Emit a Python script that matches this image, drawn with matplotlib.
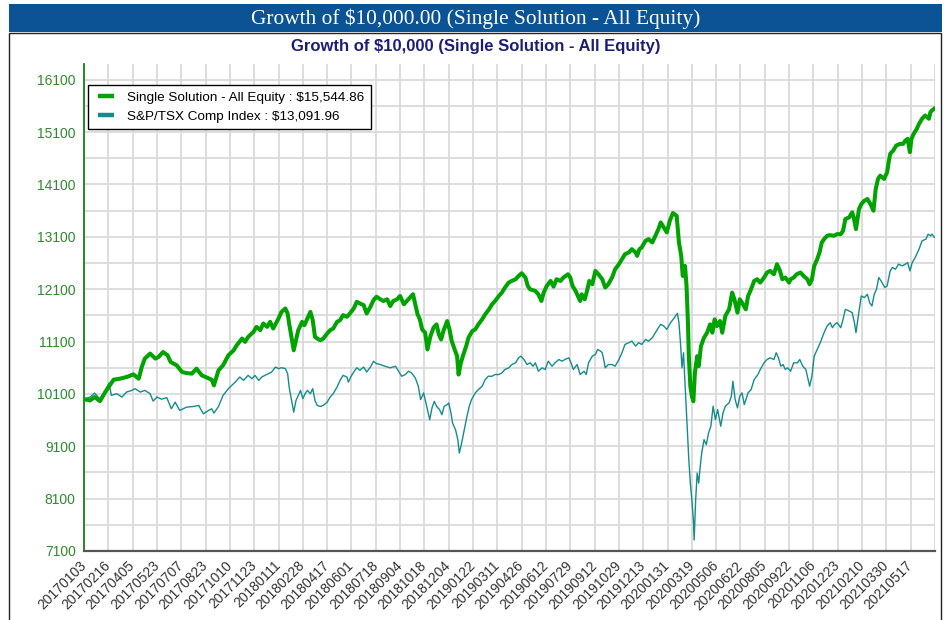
import matplotlib
matplotlib.use('Agg')
import matplotlib.pyplot as plt
from matplotlib.patches import Rectangle
from matplotlib.lines import Line2D

# ---------------- data ----------------
title_text = "Growth of $10,000.00 (Single Solution - All Equity)"
subtitle_text = "Growth of $10,000 (Single Solution - All Equity)"

x_labels = ["20170103", "20170216", "20170405", "20170523", "20170707", "20170823",
            "20171010", "20171123", "20180111", "20180228", "20180417", "20180601",
            "20180718", "20180904", "20181018", "20181204", "20190122", "20190311",
            "20190426", "20190612", "20190729", "20190912", "20191029", "20191213",
            "20200131", "20200319", "20200506", "20200622", "20200805", "20200922",
            "20201106", "20201223", "20210210", "20210330", "20210517"]
label_every = 32          # trading days between date labels
n_days = 1120             # trading days shown

y_labels = [7100, 8100, 9100, 10100, 11100, 12100, 13100, 14100, 15100, 16100]

legend_labels = ["Single Solution - All Equity : $15,544.86",
                 "S&P/TSX Comp Index : $13,091.96"]

# (trading day index, growth value)
single_solution = [
    (0,10000),(8,9975),(14,10040),(21,9962),(28,10135),(34,10263),(39,10372),(47,10390),(56,10422),
    (65,10473),(72,10390),(76,10613),(80,10774),(87,10870),(94,10774),(98,10805),(104,10900),(110,10837),
    (114,10709),(122,10646),(129,10518),(135,10498),(142,10487),(148,10583),(155,10454),(162,10410),
    (168,10372),(171,10263),(177,10550),(183,10646),(190,10837),
    (197,10933),(201,11029),(208,11157),(212,11093),(216,11188),(223,11284),(227,11380),(232,11317),
    (236,11445),(241,11380),(245,11476),(249,11349),(256,11540),(260,11667),(265,11732),(268,11636),
    (270,11445),(273,11188),(276,10933),(278,11061),(282,11317),(287,11476),(290,11412),(294,11540),
    (298,11667),(301,11508),(304,11188),(307,11157),(311,11125),(315,11157),(320,11253),(324,11317),
    (328,11349),(333,11476),(337,11508),(341,11604),(346,11572),(350,11636),(355,11732),(359,11859),
    (363,11828),(368,11796),(372,11636),(377,11764),(381,11891),(385,11955),
    (390,11907),(394,11874),(399,11907),(403,11778),(407,11874),(412,11907),(416,11970),(421,11811),
    (425,11874),(429,11939),(433,12003),(436,11811),(439,11619),(442,11524),(445,11332),(449,11269),
    (452,10949),(456,11204),(460,11365),(464,11428),(467,11236),(470,11140),(473,11300),(478,11491),
    (481,11332),(484,11108),(487,10981),(491,10820),(493,10470),(496,10694),(500,10885),(503,11012),
    (506,11173),(511,11300),(515,11332),(519,11428),(524,11524),(528,11619),(533,11715),(537,11811),
    (541,11874),(546,11970),(550,12035),(554,12131),(559,12227),(563,12258),(568,12290),(572,12353),
    (576,12405),(581,12322),(584,12162),(587,12098),
    (594,12066),(598,12002),(602,11874),(605,12035),(609,12161),(614,12257),(618,12150),(622,12290),
    (627,12257),(631,12322),(637,12385),(640,12322),(643,12161),(647,12066),(650,11970),(653,11874),
    (655,12002),(659,11907),(662,12066),(665,12257),(669,12194),(673,12449),(677,12385),(682,12290),
    (686,12131),(690,12194),(695,12322),(699,12481),(704,12577),(708,12672),(712,12768),(717,12801),
    (721,12864),(726,12801),(728,12736),(731,12864),(734,12897),(739,13023),(743,13056),(748,12992),
    (752,13119),(756,13247),
    (759,13375),(763,13280),(767,13184),(771,13406),(775,13554),(780,13502),(783,12992),(786,12736),
    (788,12353),(791,12544),(793,12161),(795,11395),(796,10821),(798,10247),(800,10056),(802,9960),
    (804,10503),(807,10821),(809,10629),(812,11013),(816,11173),(820,11269),(824,11428),(827,11269),
    (830,11524),(833,11396),(837,11492),(840,11269),(844,11587),(849,11715),(853,12035),(856,11907),
    (860,11652),(863,11907),(866,11843),(871,11715),(874,11970),(877,12066),(882,12257),(886,12290),
    (890,12226),(895,12322),(899,12418),(903,12449),(908,12385),(912,12577),(916,12449),(919,12290),
    (923,12322),(928,12226),
    (930,12290),(934,12322),(938,12385),(943,12418),(947,12353),(952,12290),(955,12194),(958,12290),
    (961,12544),(965,12673),(968,12801),(971,12992),(974,13056),(978,13119),(982,13132),(987,13119),
    (991,13151),(996,13151),(999,13215),(1002,13439),(1007,13471),(1011,13567),(1013,13471),(1016,13247),
    (1020,13630),(1023,13726),(1027,13789),(1031,13822),(1035,13726),(1039,13598),(1042,14013),(1045,14205),
    (1048,14268),(1053,14205),(1057,14333),(1059,14524),(1061,14684),(1065,14747),(1069,14843),(1074,14875),
    (1078,14875),(1081,14938),(1084,14971),(1087,14716),(1089,14971),(1092,15066),(1096,15162),(1099,15258),
    (1103,15354),(1107,15417),(1112,15354),(1114,15481),(1116,15513),(1119,15545),
]

tsx_index = [
    (0,10000),(8,10040),(14,10115),(21,10000),(28,10167),(33,10307),(36,10071),(43,10104),(50,10040),
    (56,10135),(63,10167),(67,10200),(74,10135),(80,10167),(87,10104),(91,9962),(96,10040),(102,10000),
    (109,10027),(115,9816),(120,9943),(126,9784),(135,9847),(144,9860),(151,9880),(157,9720),(164,9784),
    (168,9816),(171,9733),(177,9860),(183,10071),(190,10200),
    (199,10326),(205,10422),(210,10358),(216,10454),(221,10390),(225,10454),(230,10358),(234,10422),
    (238,10454),(243,10487),(247,10518),(252,10613),(256,10583),(260,10600),(265,10583),(268,10487),
    (270,10230),(274,9910),(276,9751),(279,9975),(282,10071),(285,10167),(288,10008),(291,10104),
    (294,10167),(298,10104),(301,10200),(304,9975),(307,9880),(311,9860),(315,9880),(320,9943),
    (324,10040),(328,10104),(333,10230),(337,10358),(341,10454),(346,10422),(348,10326),(351,10422),
    (355,10518),(359,10600),(363,10550),(368,10613),(372,10518),(377,10613),(381,10723),(385,10679),
    (390,10661),(396,10629),(403,10598),(410,10629),(414,10533),(418,10437),(423,10470),(427,10533),
    (431,10502),(436,10406),(440,10246),(443,9991),(447,10119),(451,9862),(455,9608),(458,9832),
    (461,9958),(464,9862),(468,9799),(471,9703),(474,9862),(478,9895),(480,9927),(483,9736),
    (485,9544),(489,9416),(492,9224),(494,8970),(497,9161),(500,9384),(504,9671),(507,9862),
    (510,9991),(515,10119),(519,10182),(524,10246),(528,10374),(532,10437),(537,10437),(541,10470),
    (546,10470),(550,10502),(554,10566),(559,10598),(563,10661),(568,10694),(572,10790),(575,10820),
    (579,10757),(583,10661),(587,10694),(591,10629),
    (594,10694),(598,10533),(603,10598),(607,10566),(611,10725),(616,10629),(620,10694),(625,10757),
    (629,10725),(633,10757),(638,10789),(641,10694),(644,10566),(649,10661),(653,10470),(658,10533),
    (661,10470),(664,10694),(669,10821),(673,10853),(676,10949),(680,10917),(682,10886),(684,10757),
    (686,10598),(690,10661),(695,10661),(699,10629),(704,10757),(708,10886),(712,11045),(717,11077),
    (721,11108),(726,11013),(730,11077),(734,11045),(739,11141),(743,11108),(748,11173),(752,11269),
    (756,11365),
    (759,11428),(763,11396),(767,11332),(772,11460),(777,11556),(781,11639),(783,11460),(785,11077),
    (787,10598),(789,10886),(792,9992),(794,9354),(796,8843),(798,8396),(800,8077),(802,7694),
    (803,7311),(805,8077),(807,8588),(809,8396),(811,8714),(813,8971),(816,9226),(819,9130),
    (822,9354),(825,9482),(828,9865),(831,9609),(834,9800),(838,9482),(841,9737),(844,9865),
    (849,9929),(852,10055),(854,10342),(857,9992),(860,9833),(863,10055),(866,10120),(869,9896),
    (874,10120),(878,10183),(882,10375),(887,10470),(890,10566),(895,10694),(899,10757),(903,10789),
    (908,10757),(911,10886),(914,10789),(917,10629),(920,10661),(923,10566),(926,10598),
    (930,10534),(934,10694),(939,10694),(942,10757),(946,10629),(950,10566),(953,10375),(955,10247),
    (958,10438),(961,10821),(965,10949),(969,11077),(974,11269),(978,11396),(982,11460),(985,11365),
    (988,11428),(991,11460),(996,11365),(999,11524),(1002,11715),(1007,11683),(1011,11652),(1014,11460),
    (1016,11269),(1020,11683),(1023,11970),(1027,11939),(1031,12002),(1034,11843),(1037,11779),(1040,12002),
    (1043,12098),(1046,12322),(1049,12257),(1054,12131),(1057,12162),(1061,12449),(1064,12514),(1068,12481),
    (1072,12577),(1077,12545),(1081,12577),(1084,12609),(1087,12449),(1090,12609),(1094,12705),(1099,12864),
    (1103,13023),(1108,13056),(1111,13151),(1114,13119),(1116,13151),(1119,13092),
]

# ---------------- figure ----------------
W, H = 947, 620
fig = plt.figure(figsize=(W / 100, H / 100), dpi=100)
fig.patch.set_facecolor('white')


def fx(px):
    return px / W


def fy(py):
    return 1 - py / H


# panel frame
fig.patches.append(Rectangle((fx(9), fy(625)), fx(941) - fx(9), fy(33) - fy(625),
                             transform=fig.transFigure, facecolor='none',
                             edgecolor='#222222', lw=1.0, zorder=0))
# title bar
fig.patches.append(Rectangle((fx(9), fy(32)), fx(942) - fx(9), fy(4) - fy(32),
                             transform=fig.transFigure, facecolor='#0b5394',
                             edgecolor='none', zorder=1))
fig.text(fx(475.5), fy(18.5), title_text, color='white', family='Liberation Serif',
         fontsize=15.4, ha='center', va='center')
fig.text(fx(476), fy(46.5), subtitle_text, color='#1d1d78', weight='bold',
         family='Liberation Sans', fontsize=12.0, ha='center', va='center')

ax = fig.add_axes([fx(84), fy(551), fx(935) - fx(84), fy(64) - fy(551)])
ax.set_facecolor('white')
ax.set_zorder(2)

grid_c = '#dadada'
ax.set_xlim(0, n_days)
ax.set_ylim(7100, 16400)

xt = [i * label_every for i in range(len(x_labels))]
ax.set_xticks(xt)
ax.set_xticklabels(x_labels, rotation=45, ha='right', va='center',
                   rotation_mode='anchor', fontsize=10, color='#333333',
                   family='Liberation Sans')
ax.set_yticks(y_labels)
ax.set_yticklabels([str(v) for v in y_labels], fontsize=10, color='#2f8a2f',
                   family='Liberation Sans')
ax.set_yticks([v + 500 for v in y_labels[:-1]], minor=True)
ax.tick_params(axis='both', which='both', length=0)
ax.tick_params(axis='y', pad=6)
ax.tick_params(axis='x', pad=9)
ax.grid(True, which='both', color=grid_c, lw=1.3)
ax.axvline(n_days, color=grid_c, lw=1.3)
ax.set_axisbelow(True)

for s in ['top', 'right']:
    ax.spines[s].set_visible(False)
ax.spines['left'].set_color('#1e7d1e')
ax.spines['left'].set_linewidth(1.3)
ax.spines['bottom'].set_color('#555555')
ax.spines['bottom'].set_linewidth(1.6)

td = [d for d, v in tsx_index]
tv = [v for d, v in tsx_index]
gd = [d for d, v in single_solution]
gv = [v for d, v in single_solution]

ax.plot(td, tv, color='#148c8c', lw=1.0, zorder=3)
ax.plot(gd, gv, color='#00a300', lw=2.9, zorder=4, solid_joinstyle='round')

handles = [Line2D([], [], color='#00a300', ls='none', marker='_', markersize=12,
                  markeredgewidth=3.2),
           Line2D([], [], color='#148c8c', ls='none', marker='_', markersize=12,
                  markeredgewidth=3.2)]
leg = ax.legend(handles, legend_labels, loc='upper left',
                bbox_to_anchor=((88 - 84) / 851, (551 - 85) / 487),
                borderaxespad=0, frameon=True, fancybox=False, framealpha=1,
                edgecolor='black', borderpad=0.5, handlelength=1.65,
                handletextpad=0.75, labelspacing=0.45,
                prop={'family': 'Liberation Sans', 'size': 9.7})
leg.get_frame().set_linewidth(1.0)
leg.set_zorder(10)

fig.savefig('out.png', dpi=100)
